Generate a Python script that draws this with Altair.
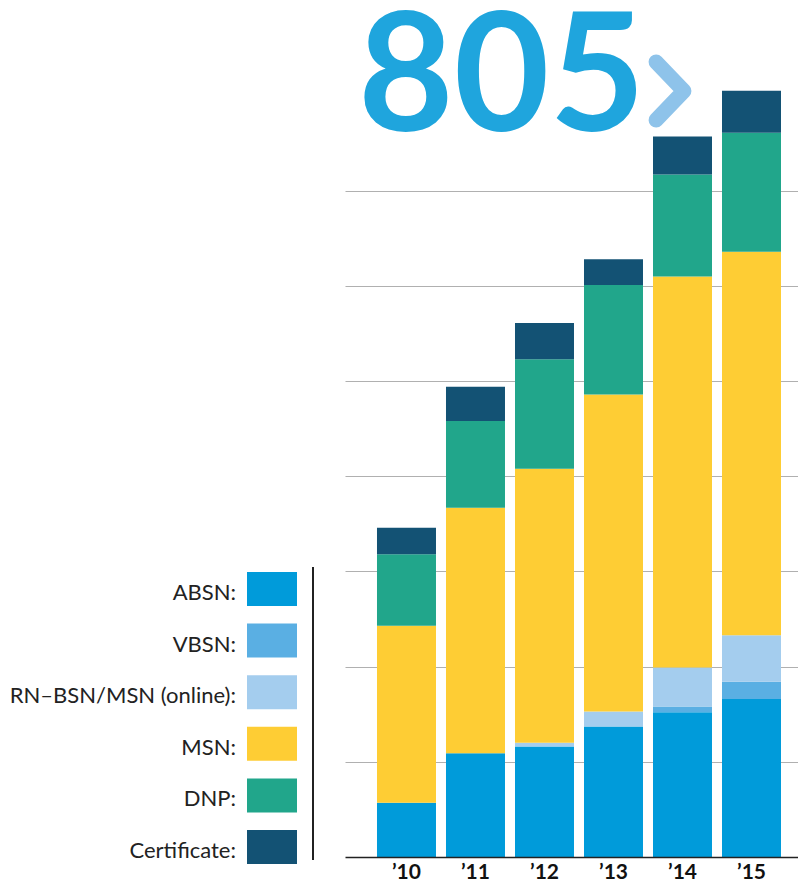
import altair as alt
import pandas as pd

years = ["’10", "’11", "’12", "’13", "’14", "’15"]
series = ["ABSN", "VBSN", "RN–BSN/MSN (online)", "MSN", "DNP", "Certificate"]
colors = ["#009bda", "#5aafe3", "#a4cdee", "#fecd34", "#21a68b", "#135274"]

absn = [57, 109, 116, 137, 152, 166]
vbsn = [0, 0, 0, 0, 6, 18]
online = [0, 0, 4, 16, 41, 49]
msn = [186, 258, 288, 333, 411, 403]
dnp = [75, 91, 115, 115, 107, 125]
cert = [28, 36, 38, 27, 40, 44]

headline = "805"
grid_values = [100, 200, 300, 400, 500, 600, 700]

FONT = "Lato"

rows = []
for si, (name, vals) in enumerate(zip(series, [absn, vbsn, online, msn, dnp, cert])):
    for yr, v in zip(years, vals):
        rows.append({"year": yr, "series": name, "value": v, "order": si})
df = pd.DataFrame(rows)

legend_df = pd.DataFrame({"series": series, "label": [s + ":" for s in series]})

color_scale = alt.Scale(domain=series, range=colors)

# ---------- legend panel ----------
ly = alt.Y("series:N", sort=series,
           scale=alt.Scale(domain=series, range=[564, 856], paddingInner=0.341, paddingOuter=0),
           axis=None)

swatches = alt.Chart(legend_df).mark_rect().encode(
    y=ly,
    x=alt.value(239), x2=alt.value(289),
    color=alt.Color("series:N", scale=color_scale, legend=None),
)
labels = alt.Chart(legend_df).mark_text(
    align="right", baseline="middle", dy=4, font=FONT, fontSize=22, color="#222222"
).encode(
    y=ly,
    x=alt.value(228),
    text="label:N",
)
vline = alt.Chart(legend_df).mark_rule(color="#222222", strokeWidth=1.5).encode(
    x=alt.value(305), y=alt.value(559), y2=alt.value(852)
)
legend_panel = alt.layer(swatches, labels, vline).properties(width=337, height=849)

# ---------- bar panel ----------
bars = alt.Chart(df).mark_bar().encode(
    x=alt.X("year:N", sort=years,
            scale=alt.Scale(paddingInner=0.145, paddingOuter=0.355, align=0.653),
            axis=alt.Axis(title=None, ticks=False, tickSize=0, labelPadding=4,
                          labelFont=FONT, labelFontSize=21, labelFontWeight="bold",
                          labelColor="#111111", labelAngle=0, domainColor="#222222",
                          domainWidth=1.5, zindex=1)),
    y=alt.Y("value:Q", stack="zero",
            scale=alt.Scale(domain=[0, 892], nice=False, zero=True),
            axis=alt.Axis(title=None, values=grid_values, grid=True, labels=False,
                          ticks=False, domain=False, gridColor="#b0b0b0", gridWidth=1.2)),
    color=alt.Color("series:N", scale=color_scale, legend=None),
    order=alt.Order("order:Q"),
)

head_df = pd.DataFrame({"t": [headline]})
head = alt.Chart(head_df).mark_text(
    align="left", baseline="alphabetic", font=FONT, fontSize=165, fontWeight="bold",
    color="#1fa5dd"
).encode(x=alt.value(13), y=alt.value(123), text="t:N")

chev = alt.Chart(head_df).mark_point(
    shape="M-0.48,-1L0.48,0L-0.48,1", filled=False, size=3364,
    stroke="#8ec3ea", strokeWidth=15, strokeCap="round", strokeJoin="round", opacity=1
).encode(x=alt.value(325), y=alt.value(83))

bar_panel = alt.layer(bars, head, chev).properties(width=453, height=849)

chart = alt.hconcat(legend_panel, bar_panel, spacing=0).resolve_scale(
    x="independent", y="independent"
).properties(
    padding={"left": 0, "top": -9, "right": 0, "bottom": 1},
    background="white",
).configure_view(stroke=None)

chart.save("out.html", embed_options={"renderer": "svg", "actions": False})
